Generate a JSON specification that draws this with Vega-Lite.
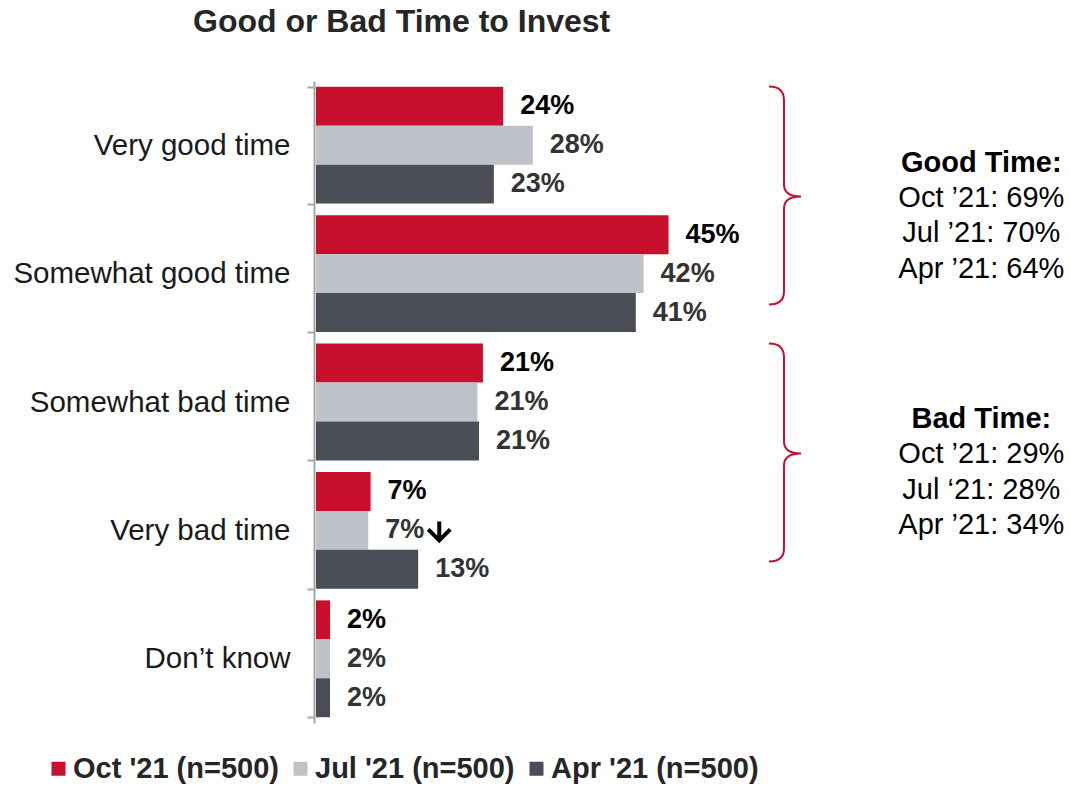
{
  "$schema": "https://vega.github.io/schema/vega-lite/v6.json",
  "width": 741,
  "height": 642,
  "autosize": {"type": "none"},
  "padding": {"left": 316, "top": 81, "right": 13, "bottom": 63},
  "background": "white",
  "config": {"font": "Liberation Sans", "view": {"stroke": null}},
  "title": {
    "text": "Good or Bad Time to Invest",
    "anchor": "start",
    "frame": "group",
    "dx": -123,
    "offset": 2,
    "baseline": "alphabetic",
    "fontSize": 32,
    "fontWeight": "bold",
    "font": "Liberation Sans",
    "color": "#262626"
  },
  "datasets": {
    "survey": [
      {"answer": "Very good time", "wave": "Oct '21 (n=500)", "share": 0.24},
      {"answer": "Very good time", "wave": "Jul '21 (n=500)", "share": 0.278},
      {"answer": "Very good time", "wave": "Apr '21 (n=500)", "share": 0.228},
      {"answer": "Somewhat good time", "wave": "Oct '21 (n=500)", "share": 0.452},
      {"answer": "Somewhat good time", "wave": "Jul '21 (n=500)", "share": 0.42},
      {"answer": "Somewhat good time", "wave": "Apr '21 (n=500)", "share": 0.41},
      {"answer": "Somewhat bad time", "wave": "Oct '21 (n=500)", "share": 0.214},
      {"answer": "Somewhat bad time", "wave": "Jul '21 (n=500)", "share": 0.207},
      {"answer": "Somewhat bad time", "wave": "Apr '21 (n=500)", "share": 0.209},
      {"answer": "Very bad time", "wave": "Oct '21 (n=500)", "share": 0.07},
      {"answer": "Very bad time", "wave": "Jul '21 (n=500)", "share": 0.067, "trend": "down"},
      {"answer": "Very bad time", "wave": "Apr '21 (n=500)", "share": 0.131},
      {"answer": "Don’t know", "wave": "Oct '21 (n=500)", "share": 0.018},
      {"answer": "Don’t know", "wave": "Jul '21 (n=500)", "share": 0.018},
      {"answer": "Don’t know", "wave": "Apr '21 (n=500)", "share": 0.018}
    ],
    "groups": [
      {"group": "Good Time:", "anchor": "Very good time", "lines": "Oct ’21: 69%\nJul ’21: 70%\nApr ’21: 64%"},
      {"group": "Bad Time:", "anchor": "Somewhat bad time", "lines": "Oct ’21: 29%\nJul ‘21: 28%\nApr ’21: 34%"}
    ]
  },
  "layer": [
    {
      "data": {"name": "survey"},
      "mark": {"type": "bar"},
      "encoding": {
        "y": {
          "field": "answer", "type": "nominal",
          "scale": {"domain": ["Very good time", "Somewhat good time", "Somewhat bad time", "Very bad time", "Don’t know"], "paddingInner": 0.09, "paddingOuter": 0.045},
          "axis": {
            "title": null,
            "tickBand": "extent",
            "domainColor": "#A6A6A6",
            "domainWidth": 2,
            "tickColor": "#A6A6A6",
            "tickWidth": 2,
            "tickSize": 7,
            "offset": 2,
            "labelFontSize": 29.5,
            "labelFont": "Liberation Sans",
            "labelColor": "#1a1a1a",
            "labelPadding": 17,
            "labelLimit": 400,
            "grid": false
          }
        },
        "yOffset": {
          "field": "wave", "type": "nominal",
          "scale": {"domain": ["Oct '21 (n=500)", "Jul '21 (n=500)", "Apr '21 (n=500)"], "paddingInner": 0, "paddingOuter": 0}
        },
        "x": {"field": "share", "type": "quantitative", "stack": null, "scale": {"domain": [0, 0.95], "nice": false}, "axis": null},
        "color": {
          "field": "wave", "type": "nominal",
          "scale": {"domain": ["Oct '21 (n=500)", "Jul '21 (n=500)", "Apr '21 (n=500)"], "range": ["#C8102E", "#BDC3C8", "#4B4E56"]},
          "legend": {
            "orient": "none",
            "direction": "horizontal",
            "legendX": -272,
            "legendY": 673,
            "title": null,
            "symbolType": "square",
            "symbolSize": 196,
            "symbolStrokeWidth": 0,
            "symbolOpacity": 1,
            "labelFontSize": 29,
            "labelFont": "Liberation Sans",
            "labelFontWeight": "bold",
            "labelColor": "#262626",
            "labelOffset": 0,
            "labelLimit": 400,
            "columnPadding": 7
          }
        }
      }
    },
    {
      "data": {"name": "survey"},
      "mark": {"type": "text", "align": "left", "baseline": "middle", "dx": 17, "fontSize": 27, "fontWeight": "bold"},
      "encoding": {
        "y": {"field": "answer", "type": "nominal", "scale": {"domain": ["Very good time", "Somewhat good time", "Somewhat bad time", "Very bad time", "Don’t know"]}},
        "yOffset": {"field": "wave", "type": "nominal", "scale": {"domain": ["Oct '21 (n=500)", "Jul '21 (n=500)", "Apr '21 (n=500)"]}},
        "x": {"field": "share", "type": "quantitative", "axis": null},
        "text": {"field": "share", "type": "quantitative", "format": ".0%"},
        "color": {"condition": {"test": "indexof(datum.wave, 'Oct') === 0", "value": "#000000"}, "value": "#333333"}
      }
    },
    {
      "data": {"name": "survey"},
      "transform": [{"filter": "datum.trend === 'down'"}],
      "mark": {"type": "point", "shape": "M 71 -9 L 71 10 M 60 -1 L 71 10 L 82 -1", "size": 4, "filled": false, "stroke": "#000000", "strokeWidth": 4, "strokeJoin": "miter", "opacity": 1},
      "encoding": {
        "y": {"field": "answer", "type": "nominal", "scale": {"domain": ["Very good time", "Somewhat good time", "Somewhat bad time", "Very bad time", "Don’t know"]}},
        "yOffset": {"field": "wave", "type": "nominal", "scale": {"domain": ["Oct '21 (n=500)", "Jul '21 (n=500)", "Apr '21 (n=500)"]}},
        "x": {"field": "share", "type": "quantitative", "axis": null}
      }
    },
    {
      "data": {"name": "groups"},
      "mark": {"type": "point", "shape": "M -15 -117 Q 0 -117 0 -103 L 0 -19 Q 0 -7 17 -7 Q 0 -7 0 5 L 0 88 Q 0 101 -15 101", "size": 4, "filled": false, "stroke": "#C8102E", "strokeWidth": 2, "opacity": 1},
      "encoding": {
        "y": {"field": "anchor", "type": "nominal", "bandPosition": 1, "scale": {"domain": ["Very good time", "Somewhat good time", "Somewhat bad time", "Very bad time", "Don’t know"]}},
        "x": {"datum": 0.6, "type": "quantitative", "axis": null}
      }
    },
    {
      "data": {"name": "groups"},
      "mark": {"type": "text", "align": "center", "baseline": "alphabetic", "dy": -32, "fontSize": 29, "fontWeight": "bold", "color": "#000000"},
      "encoding": {
        "y": {"field": "anchor", "type": "nominal", "bandPosition": 1, "scale": {"domain": ["Very good time", "Somewhat good time", "Somewhat bad time", "Very bad time", "Don’t know"]}},
        "x": {"datum": 0.853, "type": "quantitative", "axis": null},
        "text": {"field": "group", "type": "nominal"}
      }
    },
    {
      "data": {"name": "groups"},
      "mark": {"type": "text", "align": "center", "baseline": "alphabetic", "dy": 3, "lineBreak": "\n", "lineHeight": 35.5, "fontSize": 29, "color": "#000000"},
      "encoding": {
        "y": {"field": "anchor", "type": "nominal", "bandPosition": 1, "scale": {"domain": ["Very good time", "Somewhat good time", "Somewhat bad time", "Very bad time", "Don’t know"]}},
        "x": {"datum": 0.853, "type": "quantitative", "axis": null},
        "text": {"field": "lines", "type": "nominal"}
      }
    }
  ]
}
